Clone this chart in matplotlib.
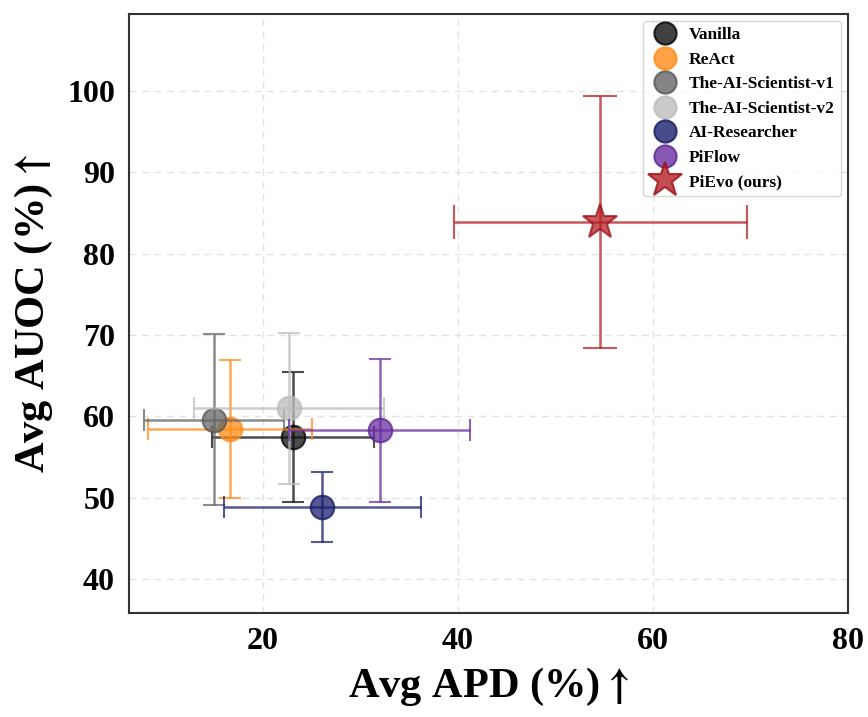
import matplotlib.pyplot as plt
from matplotlib.lines import Line2D
import numpy as np

plt.rcParams['font.family'] = ['Liberation Serif', 'DejaVu Serif']
plt.rcParams['font.weight'] = 'bold'
plt.rcParams['mathtext.fontset'] = 'stix'

methods = ['Vanilla', 'ReAct', 'The-AI-Scientist-v1', 'The-AI-Scientist-v2',
           'AI-Researcher', 'PiFlow', 'PiEvo (ours)']
apd = [23.1, 16.7, 15.0, 22.7, 26.1, 32.0, 54.6]
apd_err = [8.3, 8.4, 7.2, 9.7, 10.1, 9.3, 15.0]
auoc = [57.5, 58.4, 59.6, 61.0, 48.9, 58.3, 83.9]
auoc_err = [8.0, 8.5, 10.5, 9.3, 4.3, 8.8, 15.5]

colors = ['#111111', '#ff8c1a', '#666666', '#bdbdbd', '#1c1f6e', '#6a2fa0', '#b52025']
edges = ['#000000', '#ff8c1a', '#555555', '#bdbdbd', '#161a5e', '#5a2690', '#9a1015']

fig = plt.figure(figsize=(8.68, 7.17), dpi=100)
ax = fig.add_axes([0.1486, 0.145, 0.8284, 0.8355])

handles = []
for i, m in enumerate(methods):
    star = i == len(methods) - 1
    ax.errorbar(apd[i], auoc[i], xerr=apd_err[i], yerr=auoc_err[i],
                fmt='*' if star else 'o', color=colors[i],
                ms=26 if star else 17, mfc=colors[i], mec=edges[i], mew=1.5,
                ecolor=colors[i], elinewidth=1.8, capsize=12 if star else 8,
                capthick=1.8, alpha=0.75, zorder=3 + i)
    handles.append(Line2D([], [], ls='none', marker='*' if star else 'o',
                          ms=26 if star else 16, mfc=colors[i], mec=edges[i],
                          mew=1.5, alpha=0.8, label=m))

ax.set_xlim(6.3, 80)
ax.set_ylim(35.8, 109.5)
ax.set_xticks([20, 40, 60, 80])
ax.set_yticks([40, 50, 60, 70, 80, 90, 100])
ax.grid(True, linestyle=(0, (5, 4)), color='#dddddd', linewidth=1, alpha=0.8)
ax.tick_params(axis='both', labelsize=23, length=0, pad=10)
for lab in ax.get_xticklabels() + ax.get_yticklabels():
    lab.set_fontweight('bold')
for s in ax.spines.values():
    s.set_color('#333333')
    s.set_linewidth(1.5)

ax.set_xlabel(r'Avg APD (%)$\uparrow$', fontsize=30.5, fontweight='bold', labelpad=7)
ax.set_ylabel(r'Avg AUOC (%)$\uparrow$', fontsize=30.5, fontweight='bold', labelpad=9)

leg = ax.legend(handles=handles, loc='upper right', frameon=True,
                handletextpad=0.5, borderpad=0.35, labelspacing=0.48,
                handlelength=1.8, borderaxespad=0.4,
                prop={'weight': 'bold', 'size': 12.5})
leg.get_frame().set_edgecolor('#cccccc')

fig.savefig('out.png', dpi=100)
